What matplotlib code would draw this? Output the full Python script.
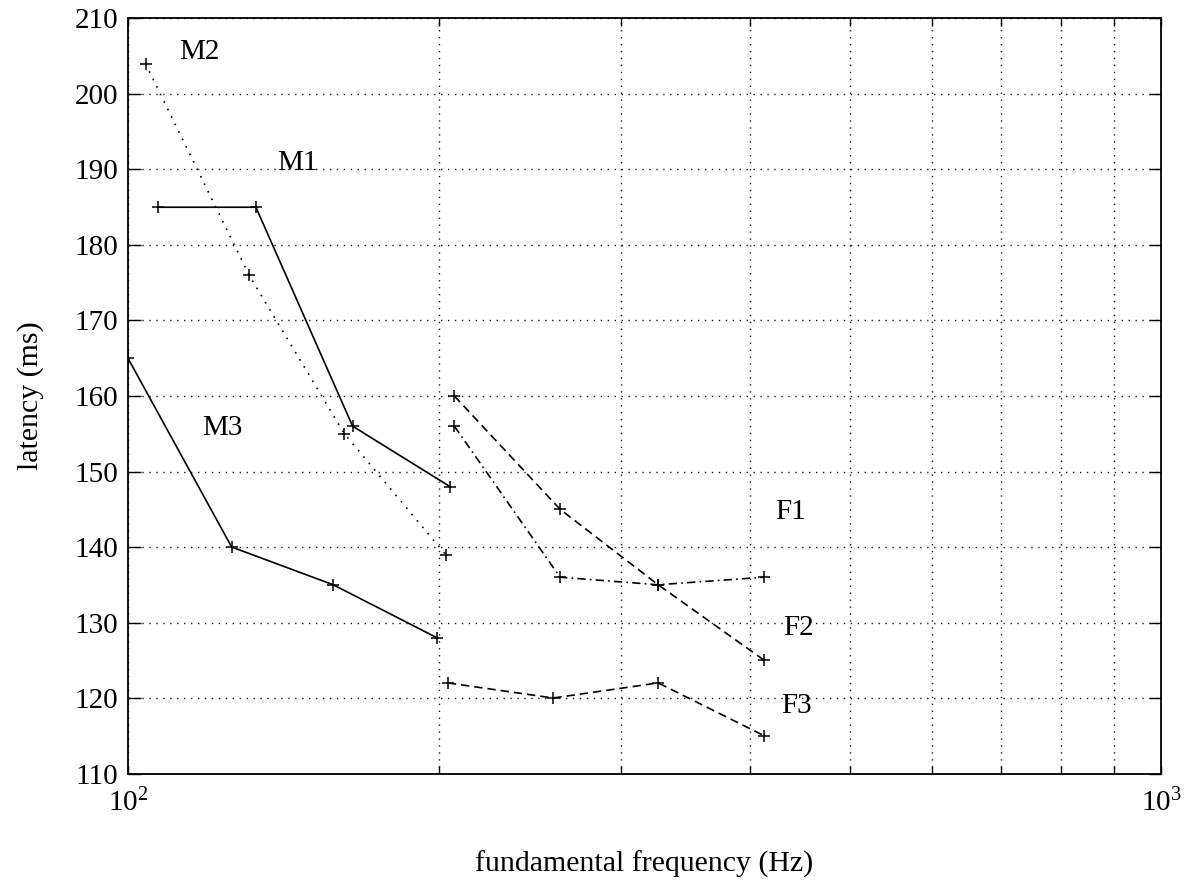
import numpy as np
import matplotlib
matplotlib.use("Agg")
import matplotlib.pyplot as plt
from matplotlib.ticker import FixedLocator, FixedFormatter, NullFormatter

plt.rcParams['font.family'] = ['Liberation Serif', 'DejaVu Serif']
plt.rcParams['mathtext.fontset'] = 'custom'
plt.rcParams['mathtext.rm'] = 'Liberation Serif'
plt.rcParams['mathtext.it'] = 'Liberation Serif:italic'

# Latencias medidas frente a la frecuencia fundamental (hablantes M1-M3, F1-F3)
f_M1 = [107, 133, 165, 205]
lat_M1 = [185, 185, 156, 148]
f_M2 = [104, 131, 162, 203]
lat_M2 = [204, 176, 155, 139]
f_M3 = [100, 126, 158, 199]
lat_M3 = [165, 140, 135, 128]
f_F1 = [207, 262, 326, 413]
lat_F1 = [160, 145, 135, 125]
f_F2 = [207, 262, 326, 413]
lat_F2 = [156, 136, 135, 136]
f_F3 = [204, 258, 326, 413]
lat_F3 = [122, 120, 122, 115]

# Etiquetas de cada curva: (texto, frecuencia, latencia)
etiquetas = [('M2', 112, 205.6), ('M1', 139.5, 190.9), ('M3', 118, 155.8),
             ('F1', 423, 144.6), ('F2', 431, 129.3), ('F3', 429, 118.9)]

series = [
    (f_M1, lat_M1, '-'),
    (f_M2, lat_M2, (0, (1, 4))),
    (f_M3, lat_M3, '-'),
    (f_F1, lat_F1, (0, (5, 3))),
    (f_F2, lat_F2, (0, (5, 2.5, 1, 2.5))),
    (f_F3, lat_F3, (0, (5, 3))),
]

fig = plt.figure(figsize=(11.85, 8.8), dpi=100)
ax = fig.add_axes([0.108, 0.121, 0.8717, 0.858])

for f, lat, ls in series:
    ax.plot(f, lat, color='black', linestyle=ls, linewidth=1.2,
            marker='+', markersize=9, markeredgewidth=1.1)

for texto, fx, ly in etiquetas:
    ax.text(fx, ly, texto, fontsize=21, ha='left', va='center')

ax.set_xscale('log')
ax.set_xlim(100, 1000)
ax.set_ylim(110, 210)
ax.set_yticks(np.arange(110, 211, 10))
ax.xaxis.set_major_locator(FixedLocator([100, 1000]))
ax.xaxis.set_major_formatter(FixedFormatter(['$10^2$', '$10^3$']))
ax.xaxis.set_minor_locator(FixedLocator(np.arange(200, 1000, 100)))
ax.xaxis.set_minor_formatter(NullFormatter())

ax.grid(True, which='both', color='0.1', linestyle=(0, (1, 4)), linewidth=1.0)
ax.tick_params(axis='both', which='both', direction='in', top=True, right=True,
               labelsize=21, width=1.0)
ax.tick_params(axis='y', which='major', length=9, pad=7)
ax.tick_params(axis='x', which='major', length=6, pad=11)
ax.tick_params(axis='x', which='minor', length=6)
for sp in ax.spines.values():
    sp.set_linewidth(1.3)

ax.set_xlabel('fundamental frequency (Hz)', fontsize=21.5, labelpad=24)
ax.set_ylabel('latency (ms)', fontsize=21.5, labelpad=22)

fig.savefig('out.png', dpi=100)
